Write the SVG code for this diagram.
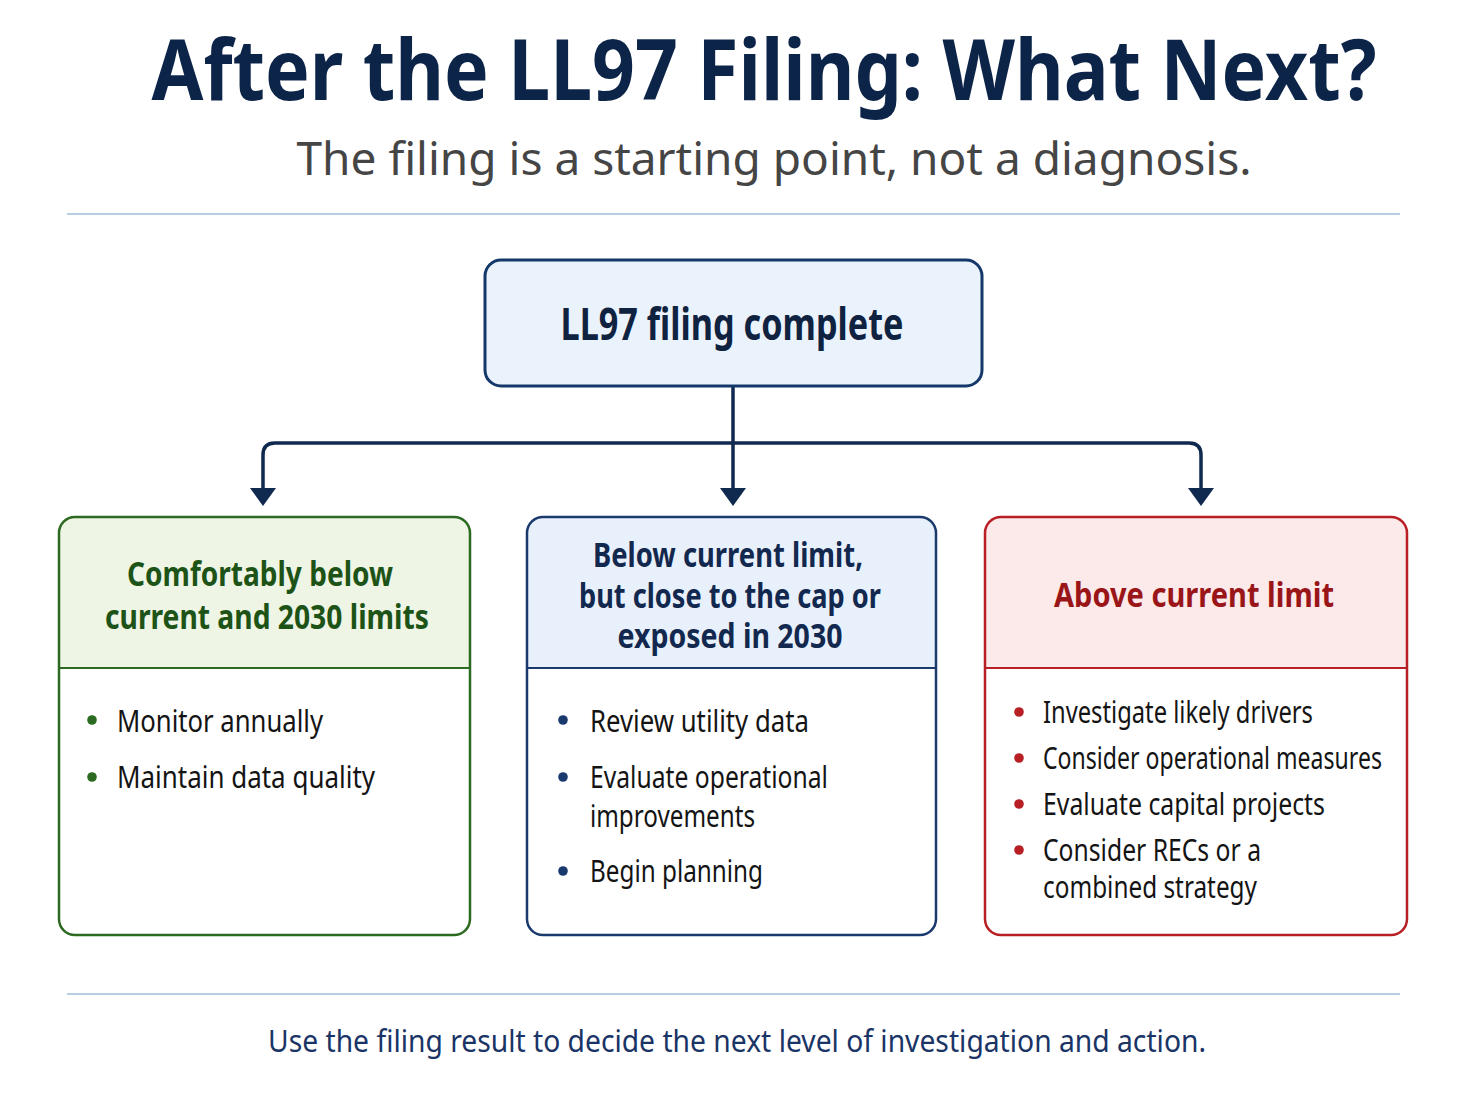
<svg xmlns="http://www.w3.org/2000/svg" width="1467" height="1100" viewBox="0 0 1467 1100">
<defs>
<style>
text{font-family:"Noto Sans","Open Sans","DejaVu Sans",sans-serif}
.title{font-size:74px;font-weight:700;fill:#0c2448}
.sub{font-size:46px;fill:#454545}
.hd{font-size:27px;font-weight:700}
.item{font-size:23.5px;fill:#141414}
.foot{font-size:25px;fill:#1a3466}
.conn{fill:none;stroke:#10294f;stroke-width:3.5;stroke-linejoin:round}
.rule{stroke:#b9cde2;stroke-width:2}
</style>
</defs>
<rect width="1467" height="1100" fill="#ffffff"/>
<text class="title" x="764" y="0" transform="matrix(1,0,0,1.13,0,100)" text-anchor="middle" textLength="1225" lengthAdjust="spacingAndGlyphs">After the LL97 Filing: What Next?</text>
<text class="sub" x="774" y="175" text-anchor="middle" textLength="955" lengthAdjust="spacingAndGlyphs">The filing is a starting point, not a diagnosis.</text>
<line class="rule" x1="67" y1="214" x2="1400" y2="214"/>

<g id="connectors">
<path class="conn" d="M733,387 L733,490"/>
<path class="conn" d="M263,490 L263,455 Q263,443 275,443 L1189,443 Q1201,443 1201,455 L1201,490"/>
<path d="M720,488 L746,488 L733,506 Z" fill="#10294f"/>
<path d="M250,488 L276,488 L263,506 Z" fill="#10294f"/>
<path d="M1188,488 L1214,488 L1201,506 Z" fill="#10294f"/>
</g>

<g id="node-filing">
<rect x="485" y="260" width="497" height="126" rx="16" fill="#eaf2fc" stroke="#15386a" stroke-width="3"/>
<text x="732" y="0" transform="matrix(1,0,0,1.29,0,340)" text-anchor="middle" font-size="34" font-weight="700" fill="#0f2240" textLength="343" lengthAdjust="spacingAndGlyphs">LL97 filing complete</text>
</g>

<g id="node-below">
<path d="M75,517 L454,517 Q470,517 470,533 L470,668 L59,668 L59,533 Q59,517 75,517 Z" fill="#eef5e5"/>
<rect x="59" y="517" width="411" height="418" rx="16" fill="none" stroke="#2b6a20" stroke-width="2.5"/>
<line x1="59" y1="668" x2="470" y2="668" stroke="#2b6a20" stroke-width="2"/>
<text class="hd" fill="#1d5316" x="260" y="0" transform="matrix(1,0,0,1.26,0,586)" text-anchor="middle" textLength="266" lengthAdjust="spacingAndGlyphs">Comfortably below</text>
<text class="hd" fill="#1d5316" x="267" y="0" transform="matrix(1,0,0,1.26,0,629)" text-anchor="middle" textLength="324" lengthAdjust="spacingAndGlyphs">current and 2030 limits</text>
<circle cx="92" cy="720" r="4.8" fill="#2b6a20"/>
<text class="item" x="117" y="0" transform="matrix(1,0,0,1.28,0,732)" textLength="206" lengthAdjust="spacingAndGlyphs">Monitor annually</text>
<circle cx="92" cy="777" r="4.8" fill="#2b6a20"/>
<text class="item" x="117" y="0" transform="matrix(1,0,0,1.28,0,788)" textLength="258" lengthAdjust="spacingAndGlyphs">Maintain data quality</text>
</g>

<g id="node-close">
<path d="M543,517 L920,517 Q936,517 936,533 L936,668 L527,668 L527,533 Q527,517 543,517 Z" fill="#e8f1fb"/>
<rect x="527" y="517" width="409" height="418" rx="16" fill="none" stroke="#1a3a6e" stroke-width="2.5"/>
<line x1="527" y1="668" x2="936" y2="668" stroke="#1a3a6e" stroke-width="2"/>
<text class="hd" fill="#13284e" x="728" y="0" transform="matrix(1,0,0,1.26,0,567)" text-anchor="middle" textLength="270" lengthAdjust="spacingAndGlyphs">Below current limit,</text>
<text class="hd" fill="#13284e" x="730" y="0" transform="matrix(1,0,0,1.26,0,608)" text-anchor="middle" textLength="302" lengthAdjust="spacingAndGlyphs">but close to the cap or</text>
<text class="hd" fill="#13284e" x="730" y="0" transform="matrix(1,0,0,1.26,0,648)" text-anchor="middle" textLength="225" lengthAdjust="spacingAndGlyphs">exposed in 2030</text>
<circle cx="563" cy="720" r="4.8" fill="#1a3a6e"/>
<text class="item" x="590" y="0" transform="matrix(1,0,0,1.28,0,732)" textLength="219" lengthAdjust="spacingAndGlyphs">Review utility data</text>
<circle cx="563" cy="777" r="4.8" fill="#1a3a6e"/>
<text class="item" x="590" y="0" transform="matrix(1,0,0,1.28,0,788)" textLength="238" lengthAdjust="spacingAndGlyphs">Evaluate operational</text>
<text class="item" x="590" y="0" transform="matrix(1,0,0,1.28,0,827)" textLength="165" lengthAdjust="spacingAndGlyphs">improvements</text>
<circle cx="563" cy="871" r="4.8" fill="#1a3a6e"/>
<text class="item" x="590" y="0" transform="matrix(1,0,0,1.28,0,882)" textLength="173" lengthAdjust="spacingAndGlyphs">Begin planning</text>
</g>

<g id="node-above">
<path d="M1001,517 L1391,517 Q1407,517 1407,533 L1407,668 L985,668 L985,533 Q985,517 1001,517 Z" fill="#fce9e9"/>
<rect x="985" y="517" width="422" height="418" rx="16" fill="none" stroke="#b71f25" stroke-width="2.5"/>
<line x1="985" y1="668" x2="1407" y2="668" stroke="#b71f25" stroke-width="2"/>
<text class="hd" fill="#9a1518" x="1194" y="0" transform="matrix(1,0,0,1.26,0,607)" text-anchor="middle" textLength="280" lengthAdjust="spacingAndGlyphs">Above current limit</text>
<circle cx="1019" cy="712" r="4.8" fill="#b71f25"/>
<text class="item" x="1043" y="0" transform="matrix(1,0,0,1.28,0,723)" textLength="270" lengthAdjust="spacingAndGlyphs">Investigate likely drivers</text>
<circle cx="1019" cy="758" r="4.8" fill="#b71f25"/>
<text class="item" x="1043" y="0" transform="matrix(1,0,0,1.28,0,769)" textLength="339" lengthAdjust="spacingAndGlyphs">Consider operational measures</text>
<circle cx="1019" cy="804" r="4.8" fill="#b71f25"/>
<text class="item" x="1043" y="0" transform="matrix(1,0,0,1.28,0,815)" textLength="282" lengthAdjust="spacingAndGlyphs">Evaluate capital projects</text>
<circle cx="1019" cy="850" r="4.8" fill="#b71f25"/>
<text class="item" x="1043" y="0" transform="matrix(1,0,0,1.28,0,861)" textLength="218" lengthAdjust="spacingAndGlyphs">Consider RECs or a</text>
<text class="item" x="1043" y="0" transform="matrix(1,0,0,1.28,0,898)" textLength="214" lengthAdjust="spacingAndGlyphs">combined strategy</text>
</g>

<line class="rule" x1="67" y1="994" x2="1400" y2="994"/>
<text class="foot" x="737" y="0" transform="matrix(1,0,0,1.2,0,1052)" text-anchor="middle" textLength="938" lengthAdjust="spacingAndGlyphs">Use the filing result to decide the next level of investigation and action.</text>
</svg>
